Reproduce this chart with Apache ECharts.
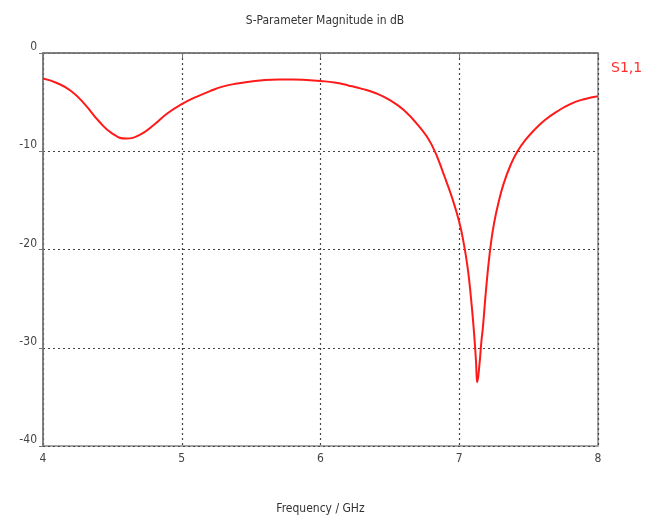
<!DOCTYPE html>
<html>
<head>
<meta charset="utf-8">
<script src="https://cdn.jsdelivr.net/npm/echarts@6/dist/echarts.min.js"></script>
<style>
  html, body { margin: 0; padding: 0; background: #fff; }
  #chart { width: 645px; height: 520px; }
</style>
</head>
<body>
<div id="chart"></div>
<script>
  // frequency in GHz, S1,1 in dB
  var freq = [4.0, 4.1, 4.2, 4.3, 4.4, 4.5, 4.6, 4.7, 4.8, 4.9, 5.0, 5.1, 5.2, 5.3, 5.4, 5.5, 5.6, 5.7, 5.8, 5.9, 6.0, 6.1, 6.2, 6.3, 6.4, 6.5, 6.6, 6.7, 6.8, 6.9, 6.95, 7.0, 7.03, 7.06, 7.085, 7.105, 7.12, 7.13, 7.145, 7.16, 7.17, 7.19, 7.21, 7.23, 7.25, 7.28, 7.32, 7.37, 7.42, 7.48, 7.55, 7.62, 7.7, 7.8, 7.9, 8.0];
  var s11 = [-2.6, -3.05, -3.85, -5.2, -6.9, -8.2, -8.7, -8.3, -7.3, -6.1, -5.2, -4.5, -3.9, -3.4, -3.1, -2.9, -2.75, -2.7, -2.7, -2.75, -2.85, -3.0, -3.3, -3.65, -4.1, -4.8, -5.8, -7.3, -9.3, -12.8, -14.8, -17.2, -19.2, -21.8, -25, -28.2, -31.2, -33.5, -31.8, -29.3, -28, -24.6, -21.6, -19.2, -17.4, -15.4, -13.3, -11.4, -10.0, -8.8, -7.7, -6.8, -6.0, -5.2, -4.7, -4.4];
  var yTicks = [0, -10, -20, -30, -40];
  var xTicks = [4, 5, 6, 7, 8];

  var chart = echarts.init(document.getElementById('chart'));
  var points = freq.map(function (f, i) { return [f, s11[i]]; });

  var option = {
    animation: false,
    title: {
      text: 'S-Parameter Magnitude in dB',
      left: 320,
      top: 10,
      textAlign: 'center',
      textStyle: { fontFamily: 'DejaVu Sans Condensed', fontSize: 12, fontWeight: 'normal', color: '#333' }
    },
    legend: {
      data: ['S1,1'],
      left: 601,
      top: 56,
      icon: 'none',
      itemWidth: 0,
      textStyle: { fontFamily: 'DejaVu Sans', fontSize: 14, color: '#ff3030' }
    },
    grid: {
      left: 43, right: 47, top: 53, bottom: 71,
      show: true, borderColor: '#888', borderWidth: 1.5
    },
    xAxis: {
      type: 'value',
      min: xTicks[0], max: xTicks[xTicks.length - 1], interval: 1,
      name: 'Frequency / GHz',
      nameLocation: 'middle',
      nameGap: 57,
      nameTextStyle: { fontFamily: 'DejaVu Sans Condensed', fontSize: 12, color: '#333' },
      axisLine: { lineStyle: { color: '#777', width: 1.5 } },
      axisTick: { show: true, length: 5, lineStyle: { color: '#777' } },
      axisLabel: { fontFamily: 'DejaVu Sans Condensed', fontSize: 12, color: '#444', margin: 7 },
      splitLine: { show: true, lineStyle: { type: [2, 3], color: '#444', width: 1.2 } }
    },
    yAxis: {
      type: 'value',
      min: yTicks[yTicks.length - 1], max: yTicks[0], interval: 10,
      axisLine: { show: true, lineStyle: { color: '#777', width: 1.5 } },
      axisTick: { show: true, length: 4, lineStyle: { color: '#777' } },
      axisLabel: { fontFamily: 'DejaVu Sans Condensed', fontSize: 12, color: '#444', margin: 6, verticalAlign: 'bottom' },
      splitLine: { show: true, lineStyle: { type: [2, 3], color: '#444', width: 1.2 } }
    },
    series: [{
      name: 'S1,1',
      type: 'line',
      data: points,
      smooth: 0.5,
      showSymbol: false,
      lineStyle: { color: '#ff1a1a', width: 2 },
      itemStyle: { color: '#ff1a1a' }
    }]
  };
  chart.setOption(option);
</script>
</body>
</html>
